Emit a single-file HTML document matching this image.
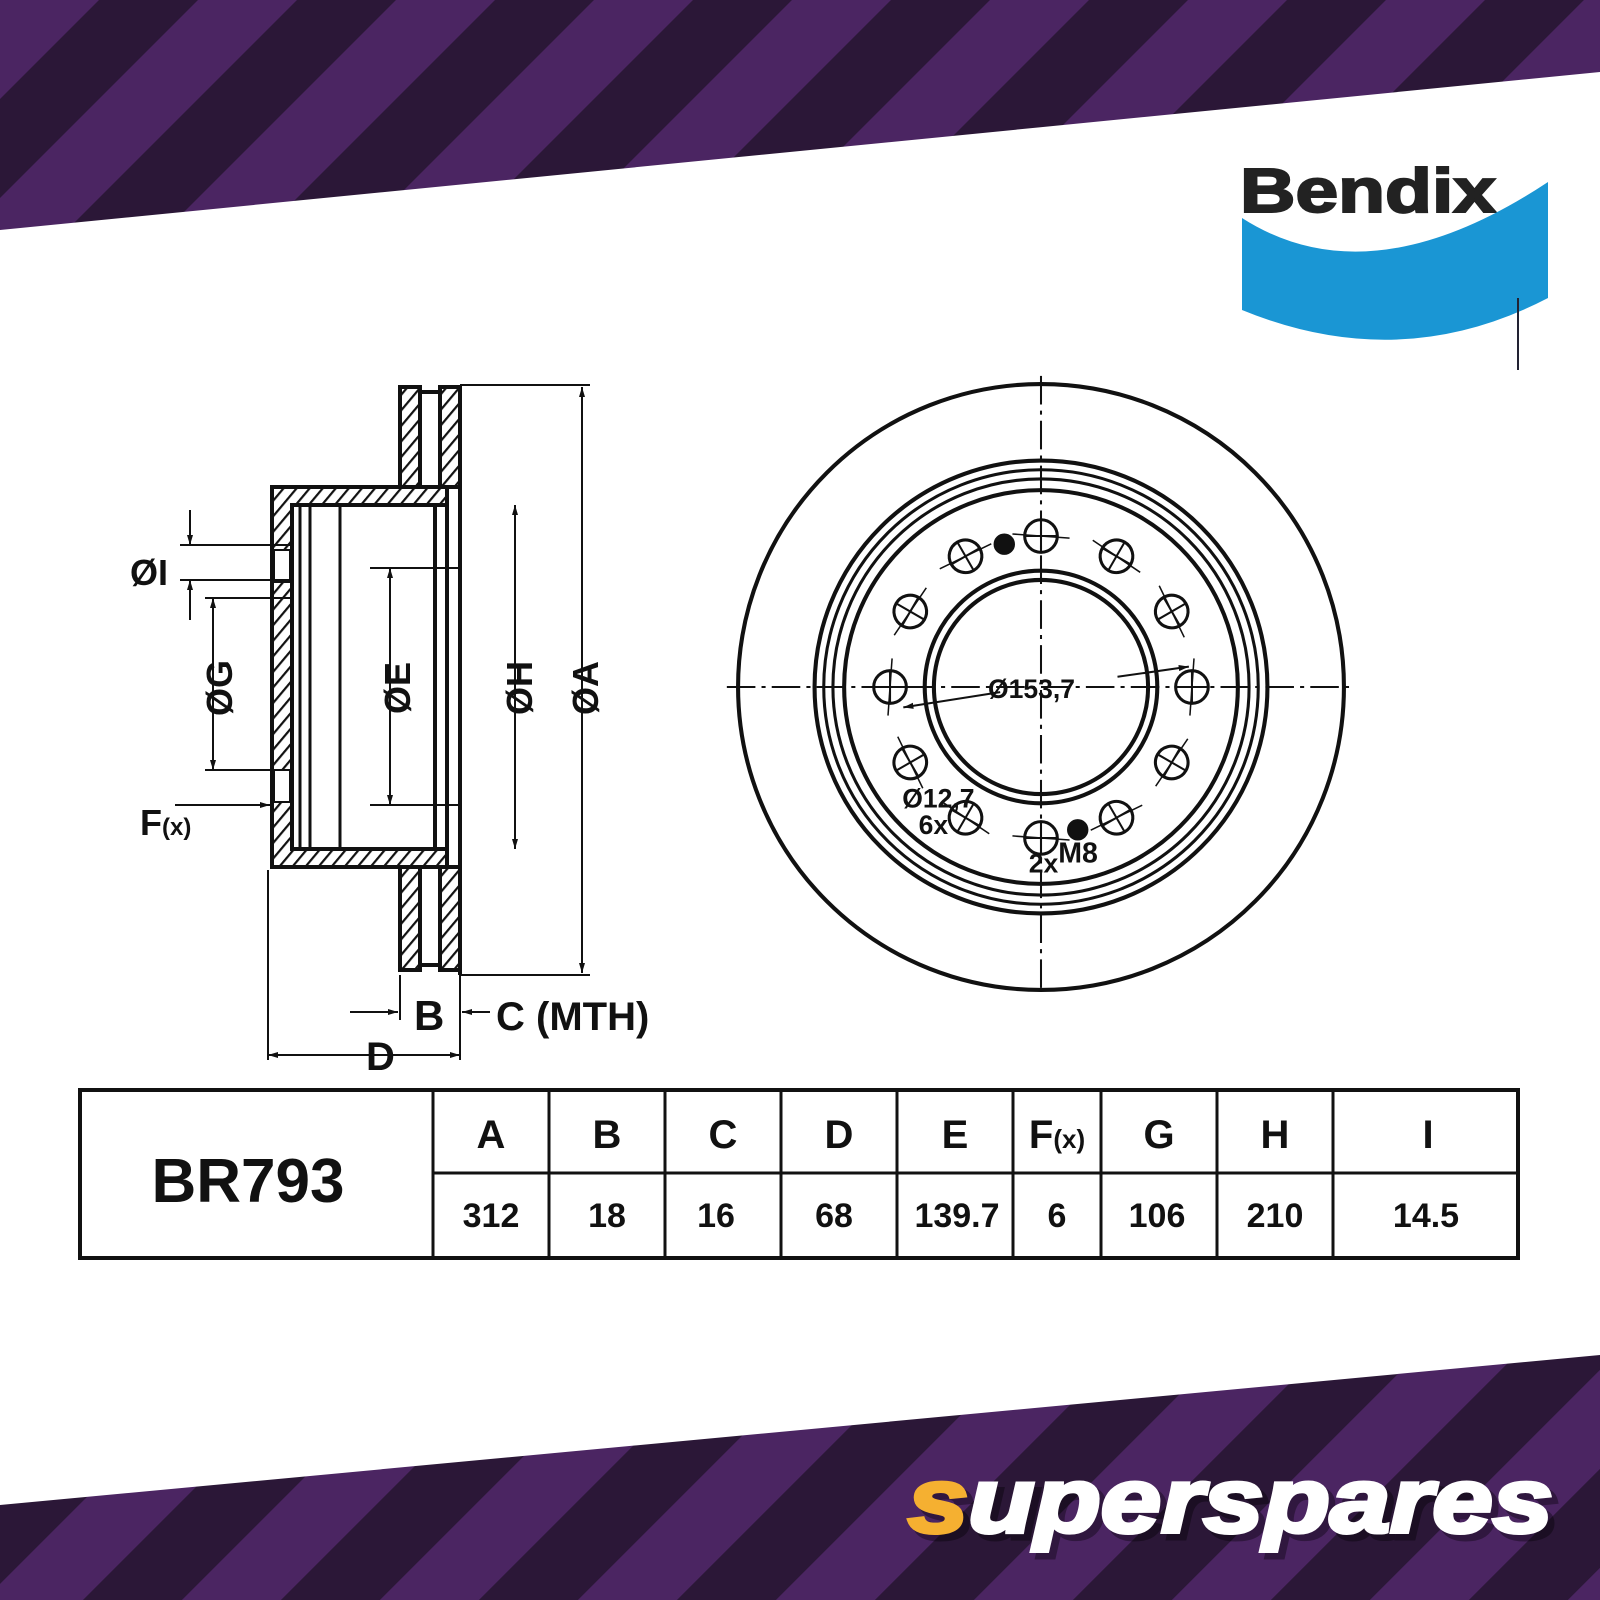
<!DOCTYPE html>
<html><head><meta charset="utf-8"><style>
html,body{margin:0;padding:0;background:#fff}
svg{display:block}
text{font-family:"Liberation Sans",sans-serif;font-weight:bold}
</style></head><body>
<svg width="1600" height="1600" viewBox="0 0 1600 1600" xmlns="http://www.w3.org/2000/svg">
<defs>
<pattern id="st" patternUnits="userSpaceOnUse" width="140" height="140" patternTransform="rotate(45)">
<rect width="140" height="140" fill="#2b1737"/><rect width="70" height="140" fill="#4b2562"/>
</pattern>
<pattern id="h" patternUnits="userSpaceOnUse" width="10" height="10" patternTransform="rotate(-50)">
<rect width="10" height="10" fill="#fff"/><rect width="10" height="2.2" fill="#111"/>
</pattern>
<marker id="a" viewBox="0 0 10 10" refX="10" refY="5" markerWidth="10" markerHeight="10" orient="auto-start-reverse" markerUnits="userSpaceOnUse"><path d="M0,2 L10,5 L0,8 z" fill="#111"/></marker>
</defs>
<polygon points="0,0 1600,0 1600,72 0,230" fill="url(#st)"/>
<polygon points="0,1505 1600,1355 1600,1600 0,1600" fill="url(#st)"/>

<text x="1240" y="212" font-size="62" textLength="256" lengthAdjust="spacingAndGlyphs" style="fill:#222;stroke:#222;stroke-width:2">Bendix</text>
<path d="M1242,218 Q1370,300 1548,182 L1548,298 Q1400,375 1242,310 Z" fill="#1a96d4"/>
<line x1="1518" y1="298" x2="1518" y2="370" stroke="#223" stroke-width="2"/>

<g style="fill:#111">
<g stroke="#111" stroke-width="4" fill="none">
<rect x="400" y="387" width="20" height="100" fill="url(#h)"/>
<rect x="440" y="387" width="20" height="100" fill="url(#h)"/>
<rect x="400" y="867" width="20" height="103" fill="url(#h)"/>
<rect x="440" y="867" width="20" height="103" fill="url(#h)"/>
<line x1="420" y1="392" x2="440" y2="392"/><line x1="420" y1="965" x2="440" y2="965"/>
<path d="M272,487 L447,487 L447,505 L292,505 L292,849 L447,849 L447,867 L272,867 Z" fill="url(#h)"/>
<line x1="460" y1="385" x2="460" y2="975"/>
<line x1="447" y1="505" x2="447" y2="849"/>
<line x1="435" y1="505" x2="435" y2="849"/>
<line x1="300" y1="505" x2="300" y2="849" stroke-width="3"/>
<line x1="310" y1="505" x2="310" y2="849" stroke-width="3"/>
<line x1="340" y1="505" x2="340" y2="849" stroke-width="3"/>
<rect x="274" y="550" width="16" height="32" fill="#fff" stroke-width="2"/>
<rect x="274" y="770" width="16" height="32" fill="#fff" stroke-width="2"/>
</g>
<g stroke="#111" stroke-width="2" fill="none">
<line x1="180" y1="545" x2="290" y2="545"/><line x1="180" y1="580" x2="290" y2="580"/>
<line x1="190" y1="510" x2="190" y2="545" marker-end="url(#a)"/>
<line x1="190" y1="620" x2="190" y2="580" marker-end="url(#a)"/>
<line x1="205" y1="598" x2="290" y2="598"/><line x1="205" y1="770" x2="290" y2="770"/>
<line x1="213" y1="598" x2="213" y2="770" marker-start="url(#a)" marker-end="url(#a)"/>
<line x1="370" y1="568" x2="460" y2="568"/><line x1="370" y1="805" x2="460" y2="805"/>
<line x1="390" y1="568" x2="390" y2="805" marker-start="url(#a)" marker-end="url(#a)"/>
<line x1="515" y1="505" x2="515" y2="849" marker-start="url(#a)" marker-end="url(#a)"/>
<line x1="460" y1="385" x2="590" y2="385"/><line x1="460" y1="975" x2="590" y2="975"/>
<line x1="582" y1="387" x2="582" y2="973" marker-start="url(#a)" marker-end="url(#a)"/>
<line x1="175" y1="805" x2="270" y2="805" marker-end="url(#a)"/>
<line x1="268" y1="870" x2="268" y2="1060"/><line x1="460" y1="975" x2="460" y2="1060"/>
<line x1="400" y1="975" x2="400" y2="1020"/>
<line x1="350" y1="1012" x2="398" y2="1012" marker-end="url(#a)"/>
<line x1="490" y1="1012" x2="462" y2="1012" marker-end="url(#a)"/>
<line x1="268" y1="1055" x2="460" y2="1055" marker-start="url(#a)" marker-end="url(#a)"/>
</g>
<g font-size="36">
<text x="130" y="585">ØI</text>
<text transform="translate(232,688) rotate(-90)" text-anchor="middle">ØG</text>
<text transform="translate(410,688) rotate(-90)" text-anchor="middle">ØE</text>
<text transform="translate(532,688) rotate(-90)" text-anchor="middle">ØH</text>
<text transform="translate(598,688) rotate(-90)" text-anchor="middle">ØA</text>
<text x="140" y="835">F<tspan font-size="24">(x)</tspan></text>
<text x="414" y="1030" font-size="42">B</text>
<text x="496" y="1030" font-size="40">C (MTH)</text>
<text x="366" y="1070" font-size="40">D</text>
</g>

<!-- Front view -->
<g transform="translate(1041,687) scale(1.02)">
<g stroke="#111" fill="none">
<circle r="297" stroke-width="4"/>
<circle r="222" stroke-width="4"/>
<circle r="213" stroke-width="3"/>
<circle r="204" stroke-width="3"/>
<circle r="193" stroke-width="4"/>
<circle r="114" stroke-width="4"/>
<circle r="105" stroke-width="4"/>
<line x1="0" y1="-305" x2="0" y2="300" stroke-width="2" stroke-dasharray="28,6,4,6"/>
<line x1="-308" y1="0" x2="305" y2="0" stroke-width="2" stroke-dasharray="28,6,4,6"/>
</g>
<g stroke="#111" fill="none" stroke-width="3">
<g id="ho"><circle cx="0" cy="-148" r="16"/><line x1="-16" y1="-148" x2="16" y2="-148" stroke-width="2"/><line x1="0" y1="-164" x2="0" y2="-132" stroke-width="2"/><line x1="-28" y1="-150" x2="28" y2="-146" stroke-width="1.5"/></g>
<use href="#ho" transform="rotate(30)"/><use href="#ho" transform="rotate(60)"/><use href="#ho" transform="rotate(90)"/>
<use href="#ho" transform="rotate(120)"/><use href="#ho" transform="rotate(150)"/><use href="#ho" transform="rotate(180)"/>
<use href="#ho" transform="rotate(210)"/><use href="#ho" transform="rotate(240)"/><use href="#ho" transform="rotate(270)"/>
<use href="#ho" transform="rotate(300)"/><use href="#ho" transform="rotate(330)"/>
<circle cx="-36" cy="-140" r="9" fill="#111"/><circle cx="36" cy="140" r="9" fill="#111"/>
</g>
<g stroke="#111" stroke-width="2" fill="none">
<line x1="75" y1="-10" x2="145" y2="-20" marker-end="url(#a)"/>
<line x1="-40" y1="5" x2="-135" y2="20" marker-end="url(#a)"/>
</g>
<g font-size="26">
<text x="-52" y="11">Ø153,7</text>
<text x="-136" y="118">Ø12,7</text>
<text x="-120" y="144">6x</text>
<text x="-12" y="182">2x<tspan font-size="28" dy="-10">M8</tspan></text>
</g>
</g>

<!-- Table -->
<g stroke="#111" stroke-width="3" fill="none">
<rect x="80" y="1090" width="1438" height="168" stroke-width="4"/>
<line x1="433" y1="1090" x2="433" y2="1258"/>
<line x1="433" y1="1173" x2="1518" y2="1173"/>
<line x1="549" y1="1090" x2="549" y2="1258"/><line x1="665" y1="1090" x2="665" y2="1258"/>
<line x1="781" y1="1090" x2="781" y2="1258"/><line x1="897" y1="1090" x2="897" y2="1258"/>
<line x1="1013" y1="1090" x2="1013" y2="1258"/><line x1="1101" y1="1090" x2="1101" y2="1258"/>
<line x1="1217" y1="1090" x2="1217" y2="1258"/><line x1="1333" y1="1090" x2="1333" y2="1258"/>
</g>
<text x="248" y="1202" font-size="62" text-anchor="middle">BR793</text>
<g font-size="40" text-anchor="middle">
<text x="491" y="1148">A</text><text x="607" y="1148">B</text><text x="723" y="1148">C</text>
<text x="839" y="1148">D</text><text x="955" y="1148">E</text><text x="1057" y="1148">F<tspan font-size="26">(x)</tspan></text>
<text x="1159" y="1148">G</text><text x="1275" y="1148">H</text><text x="1428" y="1148">I</text>
</g>
<g font-size="34" text-anchor="middle">
<text x="491" y="1227">312</text><text x="607" y="1227">18</text><text x="716" y="1227">16</text>
<text x="834" y="1227">68</text><text x="957" y="1227">139.7</text><text x="1057" y="1227">6</text>
<text x="1157" y="1227">106</text><text x="1275" y="1227">210</text><text x="1426" y="1227">14.5</text>
</g>
</g>

<g font-size="92" style="font-style:italic">
<text x="914" y="1538" textLength="645" lengthAdjust="spacingAndGlyphs" style="fill:#000;stroke:#000;stroke-width:5;opacity:0.35">superspares</text>
<text x="908" y="1532" textLength="645" lengthAdjust="spacingAndGlyphs" style="fill:#fff;stroke:#fff;stroke-width:4"><tspan style="fill:#f5b031;stroke:#f5b031">s</tspan>uperspares</text>
</g>
</svg>
</body></html>
